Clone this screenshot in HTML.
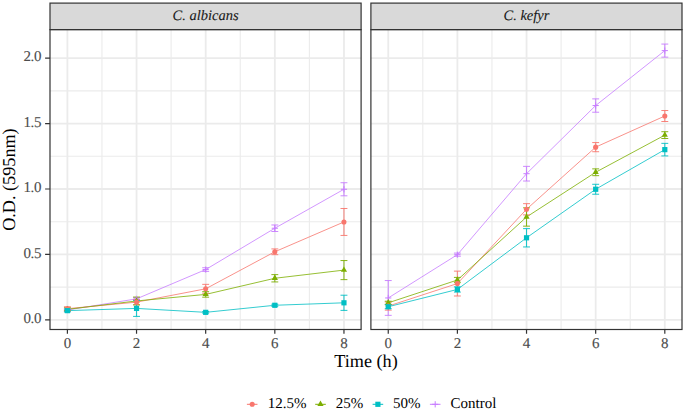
<!DOCTYPE html>
<html><head><meta charset="utf-8"><style>
html,body{margin:0;padding:0;background:#fff;}
svg{display:block;font-family:"Liberation Serif",serif;text-rendering:geometricPrecision;}
.t1{fill:#4D4D4D;stroke:#4D4D4D;stroke-width:0.12px;}
.t2{fill:#000;stroke:#000;stroke-width:0.1px;}
.t4{fill:#000;}
.t3{fill:#1A1A1A;stroke:#1A1A1A;stroke-width:0.1px;}
</style></head><body>
<svg width="685" height="413" viewBox="0 0 685 413">
<rect width="685" height="413" fill="#fff"/>
<rect x="50" y="29.6" width="311.1" height="299.9" fill="#fff"/>
<path d="M101.97 29.6V329.5" stroke="#EBEBEB" stroke-width="1.1"/><path d="M171.11 29.6V329.5" stroke="#EBEBEB" stroke-width="1.1"/><path d="M240.25 29.6V329.5" stroke="#EBEBEB" stroke-width="1.1"/><path d="M309.39 29.6V329.5" stroke="#EBEBEB" stroke-width="1.1"/><path d="M50 287.1H361.1" stroke="#EBEBEB" stroke-width="1.1"/><path d="M50 221.7H361.1" stroke="#EBEBEB" stroke-width="1.1"/><path d="M50 156.3H361.1" stroke="#EBEBEB" stroke-width="1.1"/><path d="M50 90.9H361.1" stroke="#EBEBEB" stroke-width="1.1"/><path d="M67.4 29.6V329.5" stroke="#EBEBEB" stroke-width="1.8"/><path d="M136.54 29.6V329.5" stroke="#EBEBEB" stroke-width="1.8"/><path d="M205.68 29.6V329.5" stroke="#EBEBEB" stroke-width="1.8"/><path d="M274.82 29.6V329.5" stroke="#EBEBEB" stroke-width="1.8"/><path d="M343.96 29.6V329.5" stroke="#EBEBEB" stroke-width="1.8"/><path d="M50 319.8H361.1" stroke="#EBEBEB" stroke-width="1.8"/><path d="M50 254.4H361.1" stroke="#EBEBEB" stroke-width="1.8"/><path d="M50 189H361.1" stroke="#EBEBEB" stroke-width="1.8"/><path d="M50 123.6H361.1" stroke="#EBEBEB" stroke-width="1.8"/><path d="M50 58.2H361.1" stroke="#EBEBEB" stroke-width="1.8"/>
<polyline points="67.4,309.99 136.54,298.87 205.68,269.57 274.82,228.24 343.96,189.26" fill="none" stroke="#C77CFF" stroke-width="0.8"/>
<polyline points="67.4,308.68 136.54,302.14 205.68,288.8 274.82,251.78 343.96,221.96" fill="none" stroke="#F8766D" stroke-width="0.8"/>
<polyline points="67.4,309.34 136.54,300.96 205.68,294.42 274.82,278.27 343.96,270.1" fill="none" stroke="#7CAE00" stroke-width="0.8"/>
<polyline points="67.4,310.64 136.54,308.42 205.68,312.34 274.82,305.28 343.96,302.8" fill="none" stroke="#00BFC4" stroke-width="0.8"/>
<path d="M63.94 308.68H70.86M67.4 308.68V311.3M63.94 311.3H70.86M133.08 297.56H140M136.54 297.56V300.18M133.08 300.18H140M202.22 267.74H209.14M205.68 267.74V271.4M202.22 271.4H209.14M271.36 224.97H278.28M274.82 224.97V231.51M271.36 231.51H278.28M340.5 182.72H347.42M343.96 182.72V195.8M340.5 195.8H347.42" fill="none" stroke="#C77CFF" stroke-width="0.9"/>
<path d="M63.94 306.72H70.86M67.4 306.72V310.64M63.94 310.64H70.86M133.08 299.53H140M136.54 299.53V304.76M133.08 304.76H140M202.22 284.35H209.14M205.68 284.35V293.25M202.22 293.25H209.14M271.36 248.91H278.28M274.82 248.91V254.66M271.36 254.66H278.28M340.5 208.49H347.42M343.96 208.49V235.43M340.5 235.43H347.42" fill="none" stroke="#F8766D" stroke-width="0.9"/>
<path d="M63.94 307.77H70.86M67.4 307.77V310.91M63.94 310.91H70.86M133.08 297.04H140M136.54 297.04V304.89M133.08 304.89H140M202.22 291.68H209.14M205.68 291.68V297.17M202.22 297.17H209.14M271.36 274.61H278.28M274.82 274.61V281.93M271.36 281.93H278.28M340.5 260.55H347.42M343.96 260.55V279.64M340.5 279.64H347.42" fill="none" stroke="#7CAE00" stroke-width="0.9"/>
<path d="M63.94 309.34H70.86M67.4 309.34V311.95M63.94 311.95H70.86M133.08 300.44H140M136.54 300.44V316.4M133.08 316.4H140M202.22 311.56H209.14M205.68 311.56V313.13M202.22 313.13H209.14M271.36 304.23H278.28M274.82 304.23V306.33M271.36 306.33H278.28M340.5 295.21H347.42M343.96 295.21V310.38M340.5 310.38H347.42" fill="none" stroke="#00BFC4" stroke-width="0.9"/>
<path d="M64.3 309.99H70.5M67.4 306.89V313.09" stroke="#C77CFF" stroke-width="1" fill="none"/><path d="M133.44 298.87H139.64M136.54 295.77V301.97" stroke="#C77CFF" stroke-width="1" fill="none"/><path d="M202.58 269.57H208.78M205.68 266.47V272.67" stroke="#C77CFF" stroke-width="1" fill="none"/><path d="M271.72 228.24H277.92M274.82 225.14V231.34" stroke="#C77CFF" stroke-width="1" fill="none"/><path d="M340.86 189.26H347.06M343.96 186.16V192.36" stroke="#C77CFF" stroke-width="1" fill="none"/>
<path d="M67.4 305.64L70.5 311.04L64.3 311.04Z" fill="#7CAE00"/><path d="M136.54 297.26L139.64 302.66L133.44 302.66Z" fill="#7CAE00"/><path d="M205.68 290.72L208.78 296.12L202.58 296.12Z" fill="#7CAE00"/><path d="M274.82 274.57L277.92 279.97L271.72 279.97Z" fill="#7CAE00"/><path d="M343.96 266.4L347.06 271.8L340.86 271.8Z" fill="#7CAE00"/>
<circle cx="67.4" cy="308.68" r="2.55" fill="#F8766D"/><circle cx="136.54" cy="302.14" r="2.55" fill="#F8766D"/><circle cx="205.68" cy="288.8" r="2.55" fill="#F8766D"/><circle cx="274.82" cy="251.78" r="2.55" fill="#F8766D"/><circle cx="343.96" cy="221.96" r="2.55" fill="#F8766D"/>
<rect x="64.8" y="308.04" width="5.2" height="5.2" fill="#00BFC4"/><rect x="133.94" y="305.82" width="5.2" height="5.2" fill="#00BFC4"/><rect x="203.08" y="309.74" width="5.2" height="5.2" fill="#00BFC4"/><rect x="272.22" y="302.68" width="5.2" height="5.2" fill="#00BFC4"/><rect x="341.36" y="300.2" width="5.2" height="5.2" fill="#00BFC4"/>
<rect x="50" y="29.6" width="311.1" height="299.9" fill="none" stroke="#333" stroke-width="1.2"/>
<rect x="50" y="3.1" width="311.1" height="26.5" fill="#D9D9D9" stroke="#333" stroke-width="1.2"/>
<text x="205.55" y="19.8" font-style="italic" font-size="14.5" class="t3" text-anchor="middle">C. albicans</text>
<path d="M67.4 329.5V333.8M136.54 329.5V333.8M205.68 329.5V333.8M274.82 329.5V333.8M343.96 329.5V333.8" stroke="#333" stroke-width="1.2"/>
<text x="67.4" y="347.6" font-size="15" class="t1" text-anchor="middle">0</text><text x="136.54" y="347.6" font-size="15" class="t1" text-anchor="middle">2</text><text x="205.68" y="347.6" font-size="15" class="t1" text-anchor="middle">4</text><text x="274.82" y="347.6" font-size="15" class="t1" text-anchor="middle">6</text><text x="343.96" y="347.6" font-size="15" class="t1" text-anchor="middle">8</text>
<rect x="370.9" y="29.6" width="311.1" height="299.9" fill="#fff"/>
<path d="M422.82 29.6V329.5" stroke="#EBEBEB" stroke-width="1.1"/><path d="M491.96 29.6V329.5" stroke="#EBEBEB" stroke-width="1.1"/><path d="M561.1 29.6V329.5" stroke="#EBEBEB" stroke-width="1.1"/><path d="M630.24 29.6V329.5" stroke="#EBEBEB" stroke-width="1.1"/><path d="M370.9 287.1H682" stroke="#EBEBEB" stroke-width="1.1"/><path d="M370.9 221.7H682" stroke="#EBEBEB" stroke-width="1.1"/><path d="M370.9 156.3H682" stroke="#EBEBEB" stroke-width="1.1"/><path d="M370.9 90.9H682" stroke="#EBEBEB" stroke-width="1.1"/><path d="M388.25 29.6V329.5" stroke="#EBEBEB" stroke-width="1.8"/><path d="M457.39 29.6V329.5" stroke="#EBEBEB" stroke-width="1.8"/><path d="M526.53 29.6V329.5" stroke="#EBEBEB" stroke-width="1.8"/><path d="M595.67 29.6V329.5" stroke="#EBEBEB" stroke-width="1.8"/><path d="M664.81 29.6V329.5" stroke="#EBEBEB" stroke-width="1.8"/><path d="M370.9 319.8H682" stroke="#EBEBEB" stroke-width="1.8"/><path d="M370.9 254.4H682" stroke="#EBEBEB" stroke-width="1.8"/><path d="M370.9 189H682" stroke="#EBEBEB" stroke-width="1.8"/><path d="M370.9 123.6H682" stroke="#EBEBEB" stroke-width="1.8"/><path d="M370.9 58.2H682" stroke="#EBEBEB" stroke-width="1.8"/>
<polyline points="388.25,297.96 457.39,254.66 526.53,173.7 595.67,105.55 664.81,50.61" fill="none" stroke="#C77CFF" stroke-width="0.8"/>
<polyline points="388.25,306.07 457.39,283.57 526.53,209.27 595.67,147.14 664.81,116.01" fill="none" stroke="#F8766D" stroke-width="0.8"/>
<polyline points="388.25,302.8 457.39,280.04 526.53,216.99 595.67,172.26 664.81,135.11" fill="none" stroke="#7CAE00" stroke-width="0.8"/>
<polyline points="388.25,306.72 457.39,289.45 526.53,237.79 595.67,189.26 664.81,149.63" fill="none" stroke="#00BFC4" stroke-width="0.8"/>
<path d="M384.79 280.56H391.71M388.25 280.56V315.35M384.79 315.35H391.71M453.93 253.09H460.85M457.39 253.09V256.23M453.93 256.23H460.85M523.07 166.37H529.99M526.53 166.37V181.02M523.07 181.02H529.99M592.21 98.88H599.13M595.67 98.88V112.22M592.21 112.22H599.13M661.35 44.07H668.27M664.81 44.07V57.15M661.35 57.15H668.27" fill="none" stroke="#C77CFF" stroke-width="0.9"/>
<path d="M384.79 302.01H391.71M388.25 302.01V310.12M384.79 310.12H391.71M453.93 271.14H460.85M457.39 271.14V295.99M453.93 295.99H460.85M523.07 203.65H529.99M526.53 203.65V214.9M523.07 214.9H529.99M592.21 142.57H599.13M595.67 142.57V151.72M592.21 151.72H599.13M661.35 110.52H668.27M664.81 110.52V121.51M661.35 121.51H668.27" fill="none" stroke="#F8766D" stroke-width="0.9"/>
<path d="M384.79 301.23H391.71M388.25 301.23V304.37M384.79 304.37H391.71M453.93 277.42H460.85M457.39 277.42V282.65M453.93 282.65H460.85M523.07 207.84H529.99M526.53 207.84V226.15M523.07 226.15H529.99M592.21 168.86H599.13M595.67 168.86V175.66M592.21 175.66H599.13M661.35 131.71H668.27M664.81 131.71V138.51M661.35 138.51H668.27" fill="none" stroke="#7CAE00" stroke-width="0.9"/>
<path d="M384.79 304.76H391.71M388.25 304.76V308.68M384.79 308.68H391.71M453.93 286.84H460.85M457.39 286.84V292.07M453.93 292.07H460.85M523.07 228.63H529.99M526.53 228.63V246.94M523.07 246.94H529.99M592.21 184.29H599.13M595.67 184.29V194.23M592.21 194.23H599.13M661.35 143.35H668.27M664.81 143.35V155.91M661.35 155.91H668.27" fill="none" stroke="#00BFC4" stroke-width="0.9"/>
<path d="M385.15 297.96H391.35M388.25 294.86V301.06" stroke="#C77CFF" stroke-width="1" fill="none"/><path d="M454.29 254.66H460.49M457.39 251.56V257.76" stroke="#C77CFF" stroke-width="1" fill="none"/><path d="M523.43 173.7H529.63M526.53 170.6V176.8" stroke="#C77CFF" stroke-width="1" fill="none"/><path d="M592.57 105.55H598.77M595.67 102.45V108.65" stroke="#C77CFF" stroke-width="1" fill="none"/><path d="M661.71 50.61H667.91M664.81 47.51V53.71" stroke="#C77CFF" stroke-width="1" fill="none"/>
<path d="M388.25 299.1L391.35 304.5L385.15 304.5Z" fill="#7CAE00"/><path d="M457.39 276.34L460.49 281.74L454.29 281.74Z" fill="#7CAE00"/><path d="M526.53 213.29L529.63 218.69L523.43 218.69Z" fill="#7CAE00"/><path d="M595.67 168.56L598.77 173.96L592.57 173.96Z" fill="#7CAE00"/><path d="M664.81 131.41L667.91 136.81L661.71 136.81Z" fill="#7CAE00"/>
<circle cx="388.25" cy="306.07" r="2.55" fill="#F8766D"/><circle cx="457.39" cy="283.57" r="2.55" fill="#F8766D"/><circle cx="526.53" cy="209.27" r="2.55" fill="#F8766D"/><circle cx="595.67" cy="147.14" r="2.55" fill="#F8766D"/><circle cx="664.81" cy="116.01" r="2.55" fill="#F8766D"/>
<rect x="385.65" y="304.12" width="5.2" height="5.2" fill="#00BFC4"/><rect x="454.79" y="286.85" width="5.2" height="5.2" fill="#00BFC4"/><rect x="523.93" y="235.19" width="5.2" height="5.2" fill="#00BFC4"/><rect x="593.07" y="186.66" width="5.2" height="5.2" fill="#00BFC4"/><rect x="662.21" y="147.03" width="5.2" height="5.2" fill="#00BFC4"/>
<rect x="370.9" y="29.6" width="311.1" height="299.9" fill="none" stroke="#333" stroke-width="1.2"/>
<rect x="370.9" y="3.1" width="311.1" height="26.5" fill="#D9D9D9" stroke="#333" stroke-width="1.2"/>
<text x="526.45" y="19.8" font-style="italic" font-size="14.5" class="t3" text-anchor="middle">C. kefyr</text>
<path d="M388.25 329.5V333.8M457.39 329.5V333.8M526.53 329.5V333.8M595.67 329.5V333.8M664.81 329.5V333.8" stroke="#333" stroke-width="1.2"/>
<text x="388.25" y="347.6" font-size="15" class="t1" text-anchor="middle">0</text><text x="457.39" y="347.6" font-size="15" class="t1" text-anchor="middle">2</text><text x="526.53" y="347.6" font-size="15" class="t1" text-anchor="middle">4</text><text x="595.67" y="347.6" font-size="15" class="t1" text-anchor="middle">6</text><text x="664.81" y="347.6" font-size="15" class="t1" text-anchor="middle">8</text>
<path d="M45.1 319.8H50M45.1 254.4H50M45.1 189H50M45.1 123.6H50M45.1 58.2H50" stroke="#333" stroke-width="1.2"/>
<text x="41.0" y="323" font-size="15" class="t1" text-anchor="end" letter-spacing="-0.4">0.0</text><text x="41.0" y="257.6" font-size="15" class="t1" text-anchor="end" letter-spacing="-0.4">0.5</text><text x="41.0" y="192.2" font-size="15" class="t1" text-anchor="end" letter-spacing="-0.4">1.0</text><text x="41.0" y="126.8" font-size="15" class="t1" text-anchor="end" letter-spacing="-0.4">1.5</text><text x="41.0" y="61.4" font-size="15" class="t1" text-anchor="end" letter-spacing="-0.4">2.0</text>
<text x="366" y="367.2" font-size="18.2" class="t4" text-anchor="middle">Time (h)</text>
<text transform="translate(14.7 179.6) rotate(-90)" x="0" y="0" font-size="18.2" class="t4" text-anchor="middle">O.D. (595nm)</text>
<path d="M246.9 404.3H257.5" stroke="#F8766D" stroke-width="1"/>
<circle cx="252.2" cy="404.3" r="2.55" fill="#F8766D"/>
<text x="267.7" y="407.8" font-size="15" class="t4">12.5%</text>
<path d="M315.2 404.3H325.8" stroke="#7CAE00" stroke-width="1"/>
<path d="M320.5 400.6L323.6 406L317.4 406Z" fill="#7CAE00"/>
<text x="335.8" y="407.8" font-size="15" class="t4">25%</text>
<path d="M372.6 404.3H383.2" stroke="#00BFC4" stroke-width="1"/>
<rect x="375.3" y="401.7" width="5.2" height="5.2" fill="#00BFC4"/>
<text x="393" y="407.8" font-size="15" class="t4">50%</text>
<path d="M429.9 404.3H440.5" stroke="#C77CFF" stroke-width="1"/>
<path d="M432.1 404.3H438.3M435.2 401.2V407.4" stroke="#C77CFF" stroke-width="1" fill="none"/>
<text x="450.5" y="407.8" font-size="15" class="t4">Control</text>
</svg>
</body></html>
